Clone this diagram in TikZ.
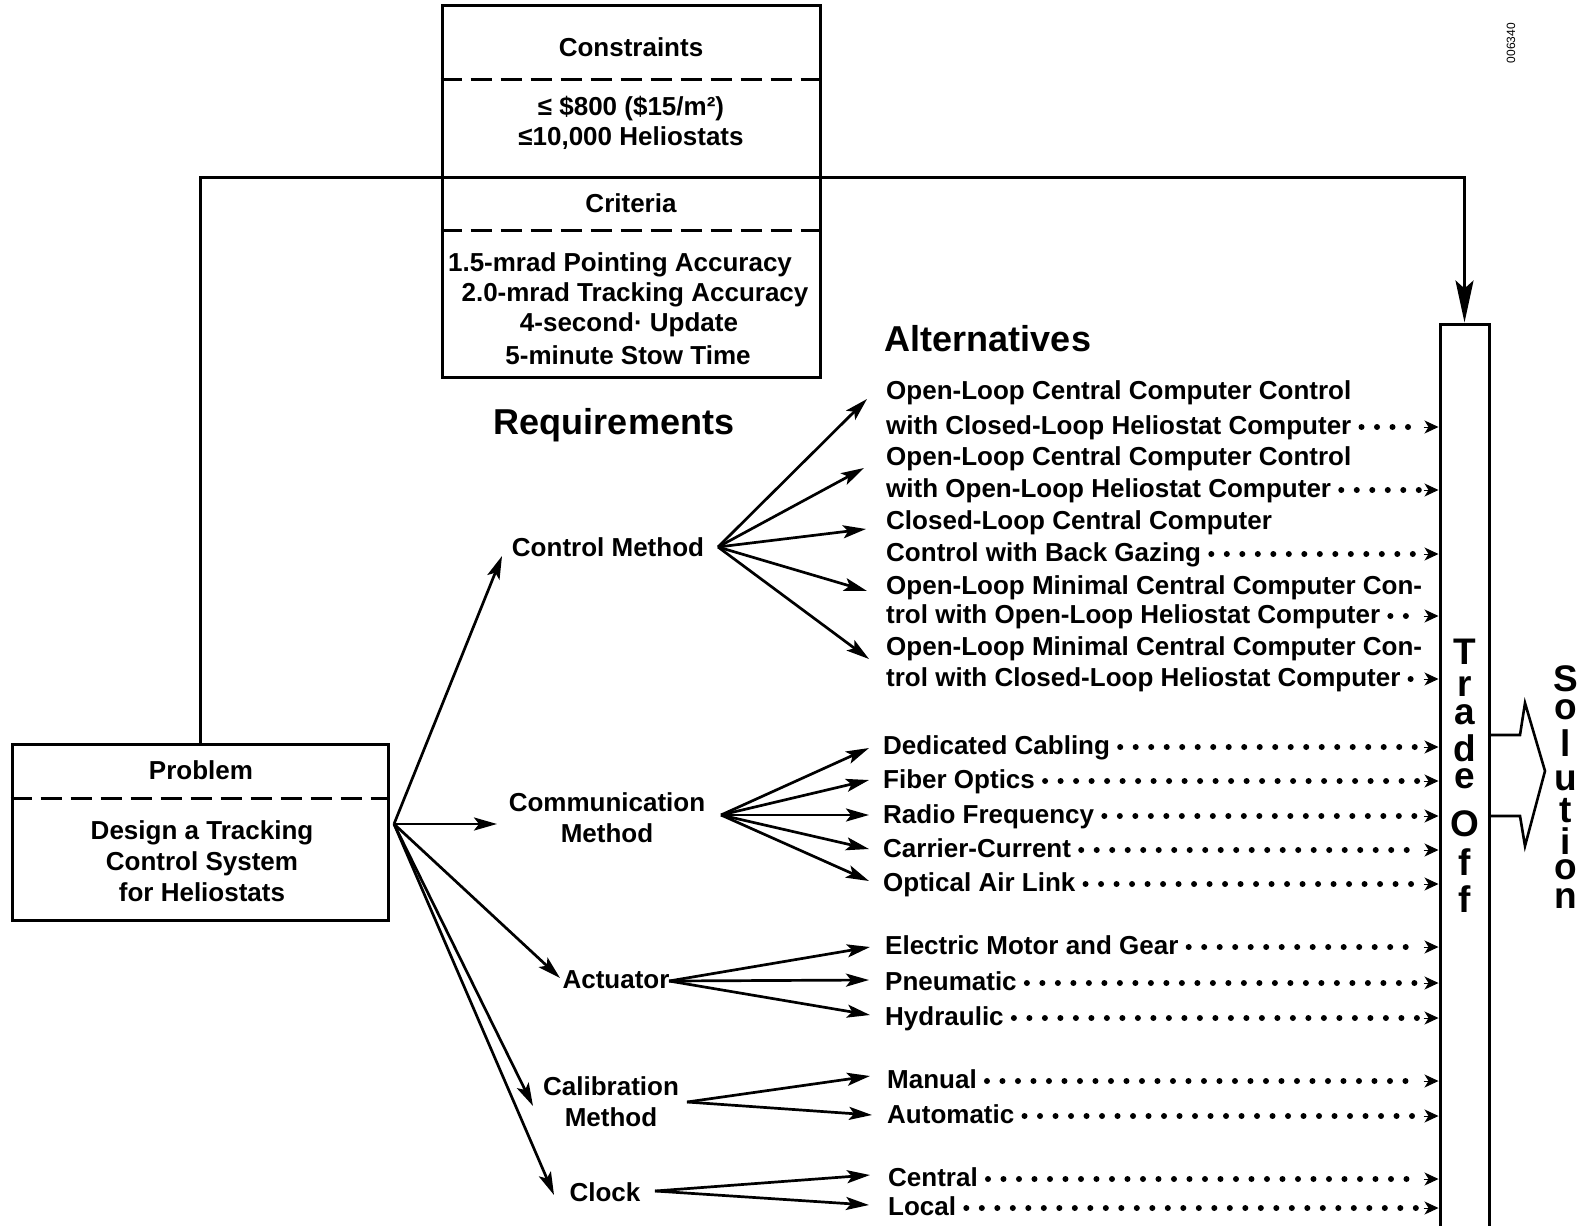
\documentclass[tikz,border=0pt]{standalone}
\usepackage{fontspec}
\setmainfont{Liberation Sans}
\usetikzlibrary{arrows.meta,calc}
\newcommand\dotrow[1]{%
  \draw[dotline] ($(#1.base east)+(10,-7)$) -- ($(#1.base east -| tob.west)+(-18,-7)$);
  \draw[dottip] ($(#1.base east -| tob.west)+(-15,-7)$) -- ($(#1.base east -| tob.west)+(0,-7)$);}
\begin{document}
\begin{tikzpicture}[x=1pt,y=-1pt,
  every node/.style={font=\fontsize{26}{31}\selectfont\bfseries, inner sep=0pt},
  box/.style={draw, line width=3pt},
  dashln/.style={line width=3pt, dash pattern=on 21pt off 9pt},
  reqarrow/.style={line width=2.7pt, -{Stealth[length=23pt,width=13pt,inset=5pt]}},
  dotline/.style={line width=6pt, line cap=round, dash pattern=on 0pt off 15.5pt},
  dottip/.style={line width=1pt, -{Stealth[length=14pt,width=13pt,inset=4pt]}},
  alt/.style={anchor=base west},
  req/.style={align=center},
  big/.style={font=\fontsize{37}{37}\selectfont\bfseries},
  head/.style={font=\fontsize{36}{40}\selectfont\bfseries},
  fb/.style={line width=3pt, -{Stealth[length=42pt,width=18pt,inset=8pt]}}
]
\useasboundingbox (0,0) rectangle (1585,1226);
\clip (0,0) rectangle (1585,1226);

% ---------- boxes ----------
\node[box, minimum width=378pt, minimum height=372pt] (cbox) at (631,191) {};
\node[box, minimum width=376pt, minimum height=176pt] (prob) at (200,832) {};
\node[box, minimum width=49pt, minimum height=936pt] (tob) at (1464.5,792) {};

\draw[dashln] (cbox.west |- 0,79) -- (cbox.east |- 0,79);
\draw[dashln] (cbox.west |- 0,230) -- (cbox.east |- 0,230);
\draw[dashln] (prob.west |- 0,798) -- (prob.east |- 0,798);

% top box texts
\node (cons) at (631,47) {Constraints};
\node (cons1) at (631,109) {≤ \$800 (\$15/m²)};
\node (cons2) at (631,138) {≤10,000 Heliostats};
\node (crit) at (631,203) {Criteria};
\node (crit1) at (620,265) {1.5-mrad Pointing Accuracy};
\node (crit2) at (635,295) {2.0-mrad Tracking Accuracy};
\node (crit3) at (629,325) {4-second· Update};
\node (crit4) at (628,355) {5-minute Stow Time};

% problem box texts
\node (probt) at (201,770) {Problem};
\node[align=center] (probd) at (202,861) {Design a Tracking\\Control System\\for Heliostats};

% feedback line
\coordinate (fbc) at (1464.5,177);
\draw[fb] (prob.north) |- (fbc) -- (tob.north);

% headings
\node[head] (hreq) at (614,425) {Requirements};
\node[head] (halt) at (988,339) {Alternatives};

% requirements
\node (ctrl) at (608,547) {Control Method};
\node[req] (comm) at (607,818) {Communication\\Method};
\node (act) at (616,980) {Actuator};
\node[req] (cal) at (611,1102) {Calibration\\Method};
\node (clk) at (605,1192) {Clock};

\coordinate (phub) at (394,824);
\coordinate (rt1) at (502,556);
\coordinate (rt2) at (497,824);
\coordinate (rt3) at (560,978);
\coordinate (rt4) at (533,1106);
\coordinate (rt5) at (554,1195);
\foreach \i in {1,...,5} \draw[reqarrow] (phub) -- (rt\i);

% alternatives: control method
\node[alt] (a1a) at (886,399) {Open-Loop Central Computer Control};
\node[alt] (a1) at (886,434) {with Closed-Loop Heliostat Computer};
\node[alt] (a2a) at (886,465) {Open-Loop Central Computer Control};
\node[alt] (a2) at (886,497) {with Open-Loop Heliostat Computer};
\node[alt] (a3a) at (886,529) {Closed-Loop Central Computer};
\node[alt] (a3) at (886,561) {Control with Back Gazing};
\node[alt] (a4a) at (886,594) {Open-Loop Minimal Central Computer Con-};
\node[alt] (a4) at (886,623) {trol with Open-Loop Heliostat Computer};
\node[alt] (a5a) at (886,655) {Open-Loop Minimal Central Computer Con-};
\node[alt] (a5) at (886,686) {trol with Closed-Loop Heliostat Computer};

% communication
\node[alt] (c1) at (883,754) {Dedicated Cabling};
\node[alt] (c2) at (883,788) {Fiber Optics};
\node[alt] (c3) at (883,823) {Radio Frequency};
\node[alt] (c4) at (883,857) {Carrier-Current};
\node[alt] (c5) at (883,891) {Optical Air Link};

% actuator
\node[alt] (e1) at (885,954) {Electric Motor and Gear};
\node[alt] (e2) at (885,990) {Pneumatic};
\node[alt] (e3) at (885,1025) {Hydraulic};

% calibration
\node[alt] (m1) at (887,1088) {Manual};
\node[alt] (m2) at (887,1123) {Automatic};

% clock
\node[alt] (k1) at (888,1186) {Central};
\node[alt] (k2) at (888,1215) {Local};

% hubs
\coordinate (hctrl) at (718,547);
\coordinate (hcomm) at (721,815);
\coordinate (hact) at (669,981);
\coordinate (hcal) at (687,1102);
\coordinate (hclk) at (655,1191);

\coordinate (tc1) at (867,399);
\coordinate (tc2) at (864,468);
\coordinate (tc3) at (866,529);
\coordinate (tc4) at (867,591);
\coordinate (tc5) at (869,659);
\foreach \i in {1,...,5} \draw[reqarrow] (hctrl) -- (tc\i);

\coordinate (tm1) at (869,748);
\coordinate (tm2) at (869,780);
\coordinate (tm3) at (869,815);
\coordinate (tm4) at (869,849);
\coordinate (tm5) at (869,881);
\foreach \i in {1,...,5} \draw[reqarrow] (hcomm) -- (tm\i);

\coordinate (ta1) at (870,947);
\coordinate (ta2) at (869,980);
\coordinate (ta3) at (870,1015);
\foreach \i in {1,...,3} \draw[reqarrow] (hact) -- (ta\i);

\coordinate (tk1) at (870,1076);
\coordinate (tk2) at (872,1115);
\foreach \i in {1,2} \draw[reqarrow] (hcal) -- (tk\i);

\coordinate (tl1) at (870,1175);
\coordinate (tl2) at (869,1205);
\foreach \i in {1,2} \draw[reqarrow] (hclk) -- (tl\i);

% dotted rows
\foreach \n in {a1,a2,a3,a4,a5,c1,c2,c3,c4,c5,e1,e2,e3,m1,m2,k1,k2} {\dotrow{\n}}

% trade off letters
\node[big] (to1) at (1465,652) {T};
\node[big] (to2) at (1465,687) {r};
\node[big] (to3) at (1465,715) {a};
\node[big] (to4) at (1465,748) {d};
\node[big] (to5) at (1465,779) {e};
\node[big] (to6) at (1465,824) {O};
\node[big] (to7) at (1465,862) {f};
\node[big] (to8) at (1465,899) {f};

% solution arrow
\draw[line width=2.6pt, line join=miter] (1490,735) -- (1520,735) -- (1525,703) -- (1545,771) -- (1525,846) -- (1520,816) -- (1490,816);

% solution letters
\node[big] (so1) at (1566,679) {S};
\node[big] (so2) at (1566,710) {o};
\node[big] (so3) at (1566,743) {l};
\node[big] (so4) at (1566,781) {u};
\node[big] (so5) at (1566,811) {t};
\node[big] (so6) at (1566,841) {i};
\node[big] (so7) at (1566,870) {o};
\node[big] (so8) at (1566,899) {n};

% id
\node[rotate=90, font=\fontsize{12}{12}\selectfont] (id) at (1511,43) {006340};
\end{tikzpicture}
\end{document}
